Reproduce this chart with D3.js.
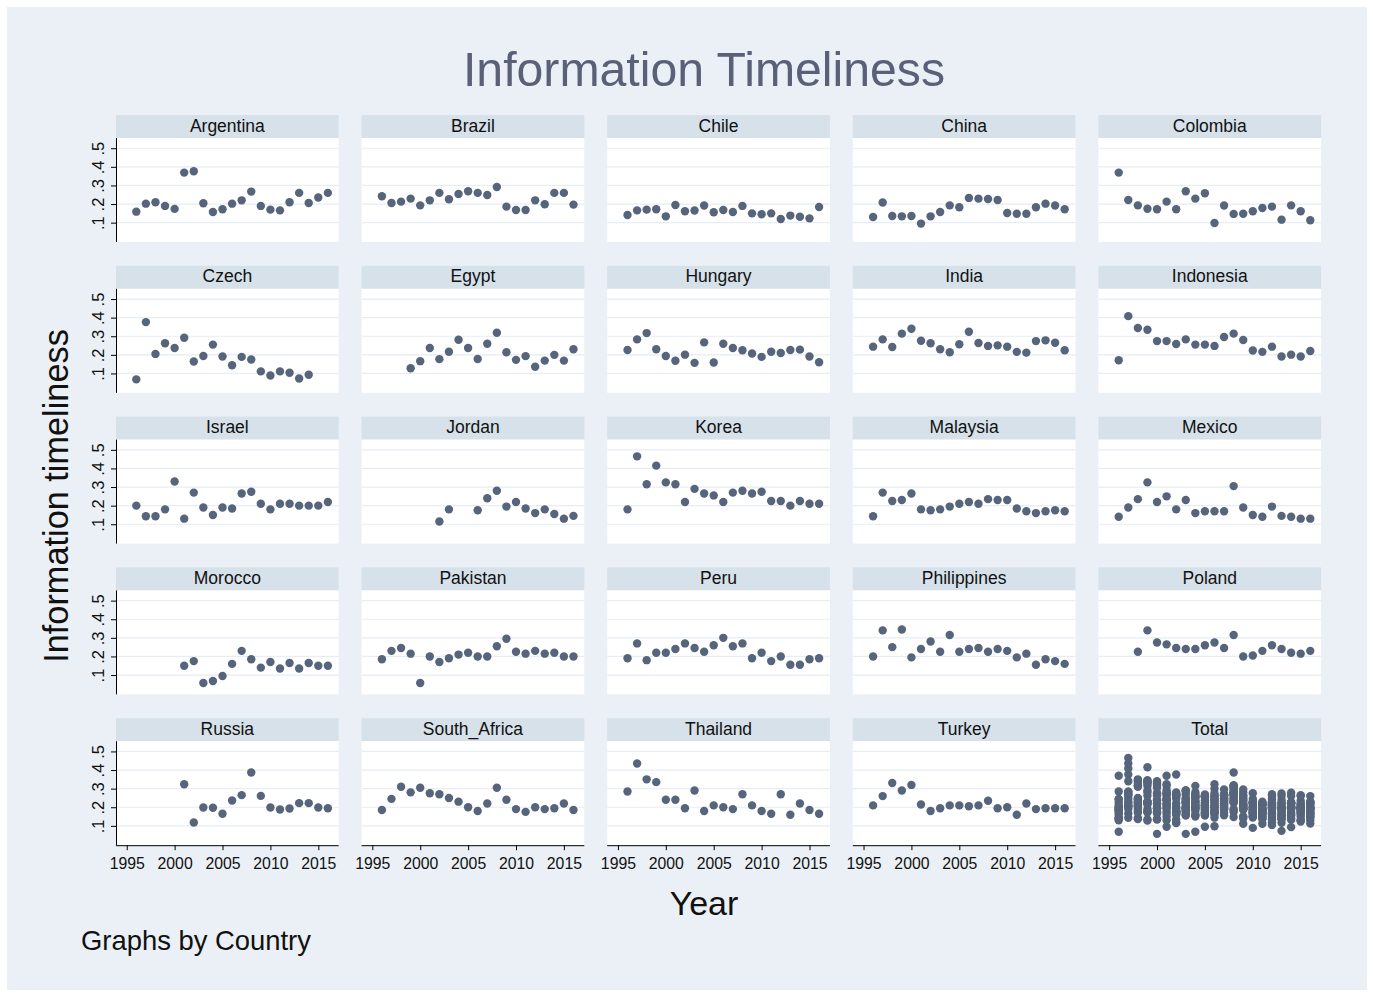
<!DOCTYPE html>
<html>
<head>
<meta charset="utf-8">
<script src="https://cdn.jsdelivr.net/npm/d3@7/dist/d3.min.js"></script>
<style>
  html, body { margin: 0; padding: 0; background: #ffffff; }
  svg { display: block; font-family: "Liberation Sans", Arial, Helvetica, sans-serif; }
</style>
</head>
<body>
<svg id="chart" width="1373" height="994"></svg>
<script>
// ---------------- DATA ----------------
const years = [1996,1997,1998,1999,2000,2001,2002,2003,2004,2005,2006,2007,2008,2009,2010,2011,2012,2013,2014,2015,2016];

const argentina   = [.159,.202,.210,.190,.174,.369,.376,.204,.157,.172,.202,.220,.267,.190,.170,.166,.210,.260,.206,.235,.260];
const brazil      = [.242,.206,.213,.229,.193,.220,.260,.226,.254,.269,.260,.249,.292,.186,.168,.168,.220,.199,.260,.260,.197];
const chile       = [.141,.166,.170,.172,.134,.195,.161,.165,.192,.156,.168,.157,.190,.150,.145,.150,.120,.138,.132,.123,.184];
const china       = [.130,.208,.136,.134,.136,.095,.134,.157,.193,.183,.233,.229,.227,.222,.152,.148,.148,.183,.202,.192,.172];
const colombia    = [.369,.222,.193,.175,.172,.213,.172,.269,.229,.258,.098,.192,.147,.148,.161,.179,.186,.116,.193,.161,.113];
const czech       = [.068,.376,.205,.262,.237,.292,.164,.194,.255,.191,.144,.189,.175,.111,.089,.111,.104,.073,.093,null,null];
const egypt       = [null,null,null,.128,.166,.237,.177,.217,.281,.237,.178,.260,.319,.214,.173,.193,.136,.169,.200,.169,.230];
const hungary     = [.226,.283,.317,.230,.194,.168,.201,.157,.267,.159,.260,.237,.225,.207,.189,.217,.210,.226,.228,.191,.160];
const india       = [.244,.283,.242,.314,.340,.276,.262,.230,.214,.257,.324,.264,.248,.251,.244,.216,.212,.274,.278,.265,.225];
const indonesia   = [.171,.408,.344,.335,.274,.274,.258,.283,.255,.255,.248,.296,.314,.280,.223,.216,.244,.191,.201,.191,.221];
const israel      = [.200,.143,.143,.180,.330,.130,.270,.190,.150,.190,.185,.265,.275,.210,.180,.210,.210,.200,.200,.200,.220];
const jordan      = [null,null,null,null,null,null,.115,.180,null,null,.175,.240,.280,.195,.220,.185,.160,.180,.155,.130,.145];
const korea       = [.180,.465,.315,.415,.325,.315,.220,.290,.265,.255,.220,.270,.280,.265,.275,.225,.225,.200,.225,.210,.210];
const malaysia    = [.143,.270,.225,.230,.265,.180,.175,.180,.195,.210,.220,.210,.235,.230,.230,.185,.170,.160,.170,.175,.170];
const mexico      = [.140,.190,.235,.325,.220,.250,.180,.230,.160,.170,.170,.170,.305,.190,.150,.140,.195,.145,.140,.130,.130];
const morocco     = [null,null,null,null,null,.150,.175,.057,.068,.095,.160,.230,.185,.140,.170,.135,.165,.135,.165,.150,.150];
const pakistan    = [.185,.230,.245,.215,.057,.200,.170,.190,.210,.220,.200,.200,.255,.295,.225,.215,.230,.215,.220,.200,.200];
const peru        = [.190,.270,.180,.220,.220,.240,.270,.245,.225,.260,.300,.255,.270,.190,.220,.175,.200,.155,.155,.185,.190];
const philippines = [.200,.340,.250,.345,.195,.240,.280,.225,.315,.225,.240,.245,.225,.240,.230,.195,.215,.155,.185,.175,.160];
const poland      = [null,null,.225,.340,.275,.265,.245,.240,.240,.260,.275,.245,.315,.200,.205,.230,.260,.240,.220,.215,.230];
const russia      = [null,null,null,null,null,.324,.118,.199,.197,.165,.236,.265,.387,.261,.199,.188,.193,.222,.222,.199,.195];
const southAfrica = [.185,.245,.310,.280,.305,.275,.270,.250,.230,.200,.180,.220,.305,.240,.190,.175,.200,.190,.195,.220,.185];
const thailand    = [.285,.435,.350,.335,.240,.240,.195,.290,.180,.210,.200,.190,.270,.210,.180,.165,.270,.160,.220,.185,.165];
const turkey      = [.210,.260,.330,.290,.320,.215,.180,.195,.210,.210,.205,.210,.235,.195,.200,.160,.220,.190,.195,.195,.195];

const countryNames = ["Argentina","Brazil","Chile","China","Colombia",
                      "Czech","Egypt","Hungary","India","Indonesia",
                      "Israel","Jordan","Korea","Malaysia","Mexico",
                      "Morocco","Pakistan","Peru","Philippines","Poland",
                      "Russia","South_Africa","Thailand","Turkey"];
const countrySeries = [argentina,brazil,chile,china,colombia,
                       czech,egypt,hungary,india,indonesia,
                       israel,jordan,korea,malaysia,mexico,
                       morocco,pakistan,peru,philippines,poland,
                       russia,southAfrica,thailand,turkey];

const yTickValues = [0.1,0.2,0.3,0.4,0.5];
const yTickLabels = [".1",".2",".3",".4",".5"];
const xTickValues = [1995,2000,2005,2010,2015];

const titleText = "Information Timeliness";
const yTitle = "Information timeliness";
const xTitle = "Year";
const noteText = "Graphs by Country";

// --------- build panel table ---------
const toPoints = arr => years.map((y,i) => ({year:y, value:arr[i]})).filter(d => d.value != null);
const panels = countryNames.map((n,i) => ({name:n, points:toPoints(countrySeries[i])}));
panels.push({name:"Total", points: countrySeries.flatMap(toPoints)});

// ---------------- LAYOUT ----------------
const C = {
  bg: "#eaf0f5",
  strip: "#d6e1ea",
  grid: "#e6edf3",
  dot: "#56657b",
  title: "#5b6079",
  text: "#111111"
};
const svg = d3.select("#chart");
svg.append("rect").attr("x",7).attr("y",7).attr("width",1360).attr("height",983).attr("fill",C.bg);

const colLeft0 = 116, colStep = 245.6, panelW = 222.7;
const rowTop0 = 115, rowStep = 150.8, stripH = 23, plotH = 104;

const x = d3.scaleLinear().domain([1993.88, 2017.13]).range([0, panelW]);
const y = d3.scaleLinear().domain([-0.004, 0.555]).range([plotH, 0]);

panels.forEach((p, idx) => {
  const col = idx % 5, row = Math.floor(idx / 5);
  const gx = colLeft0 + col*colStep, gy = rowTop0 + row*rowStep;
  const g = svg.append("g").attr("transform", `translate(${gx},${gy})`);
  // strip
  g.append("rect").attr("x",0).attr("y",0).attr("width",panelW).attr("height",stripH).attr("fill",C.strip);
  g.append("text").attr("x",panelW/2).attr("y",stripH/2+5).attr("text-anchor","middle")
    .attr("font-size",17.5).attr("fill",C.text).text(p.name);
  const pg = g.append("g").attr("transform", `translate(0,${stripH})`);
  pg.append("rect").attr("width",panelW).attr("height",plotH).attr("fill","#ffffff");
  // gridlines
  pg.selectAll("line.grid").data(yTickValues).join("line")
    .attr("x1",0).attr("x2",panelW).attr("y1",d=>y(d)).attr("y2",d=>y(d))
    .attr("stroke",C.grid).attr("stroke-width",1.2);
  // points
  pg.selectAll("circle").data(p.points).join("circle")
    .attr("cx",d=>x(d.year)).attr("cy",d=>y(d.value)).attr("r",4.2).attr("fill",C.dot);
  // y axis on first column
  if (col === 0) {
    const ya = d3.axisLeft(y).tickValues(yTickValues).tickFormat((d,i)=>yTickLabels[i]).tickSize(5).tickSizeOuter(0);
    const ag = pg.append("g").call(ya);
    ag.select(".domain").attr("stroke","#000").attr("stroke-width",1).attr("d",`M0.5,0V${plotH}`);
    ag.selectAll(".tick line").attr("stroke","#000");
    ag.selectAll(".tick text").attr("font-size",16.5).attr("fill",C.text)
      .attr("font-family","Liberation Sans, Arial, sans-serif")
      .attr("x",null).attr("dy",null)
      .attr("text-anchor","middle")
      .attr("transform","translate(-12.5,0) rotate(-90)");
  }
  // x axis on bottom row
  if (row === 4) {
    const xa = d3.axisBottom(x).tickValues(xTickValues).tickFormat(d3.format("d")).tickSize(5).tickSizeOuter(0);
    const ag = pg.append("g").attr("transform",`translate(0,${plotH})`).call(xa);
    ag.select(".domain").attr("stroke","#000").attr("stroke-width",1).attr("d",`M0,0.5H${panelW}`);
    ag.selectAll(".tick line").attr("stroke","#000");
    ag.selectAll(".tick text").attr("font-size",15.8).attr("fill",C.text)
      .attr("font-family","Liberation Sans, Arial, sans-serif")
      .attr("y",24).attr("dy",null);
  }
});

// titles
svg.append("text").attr("x",704).attr("y",86).attr("text-anchor","middle")
  .attr("font-size",48.2).attr("fill",C.title).text(titleText);
svg.append("text").attr("transform","translate(68,496) rotate(-90)").attr("text-anchor","middle")
  .attr("font-size",34.3).attr("fill",C.text).text(yTitle);
svg.append("text").attr("x",704).attr("y",915).attr("text-anchor","middle")
  .attr("font-size",34).attr("fill",C.text).text(xTitle);
svg.append("text").attr("x",81).attr("y",950).attr("text-anchor","start")
  .attr("font-size",27.4).attr("fill",C.text).text(noteText);
</script>
</body>
</html>
